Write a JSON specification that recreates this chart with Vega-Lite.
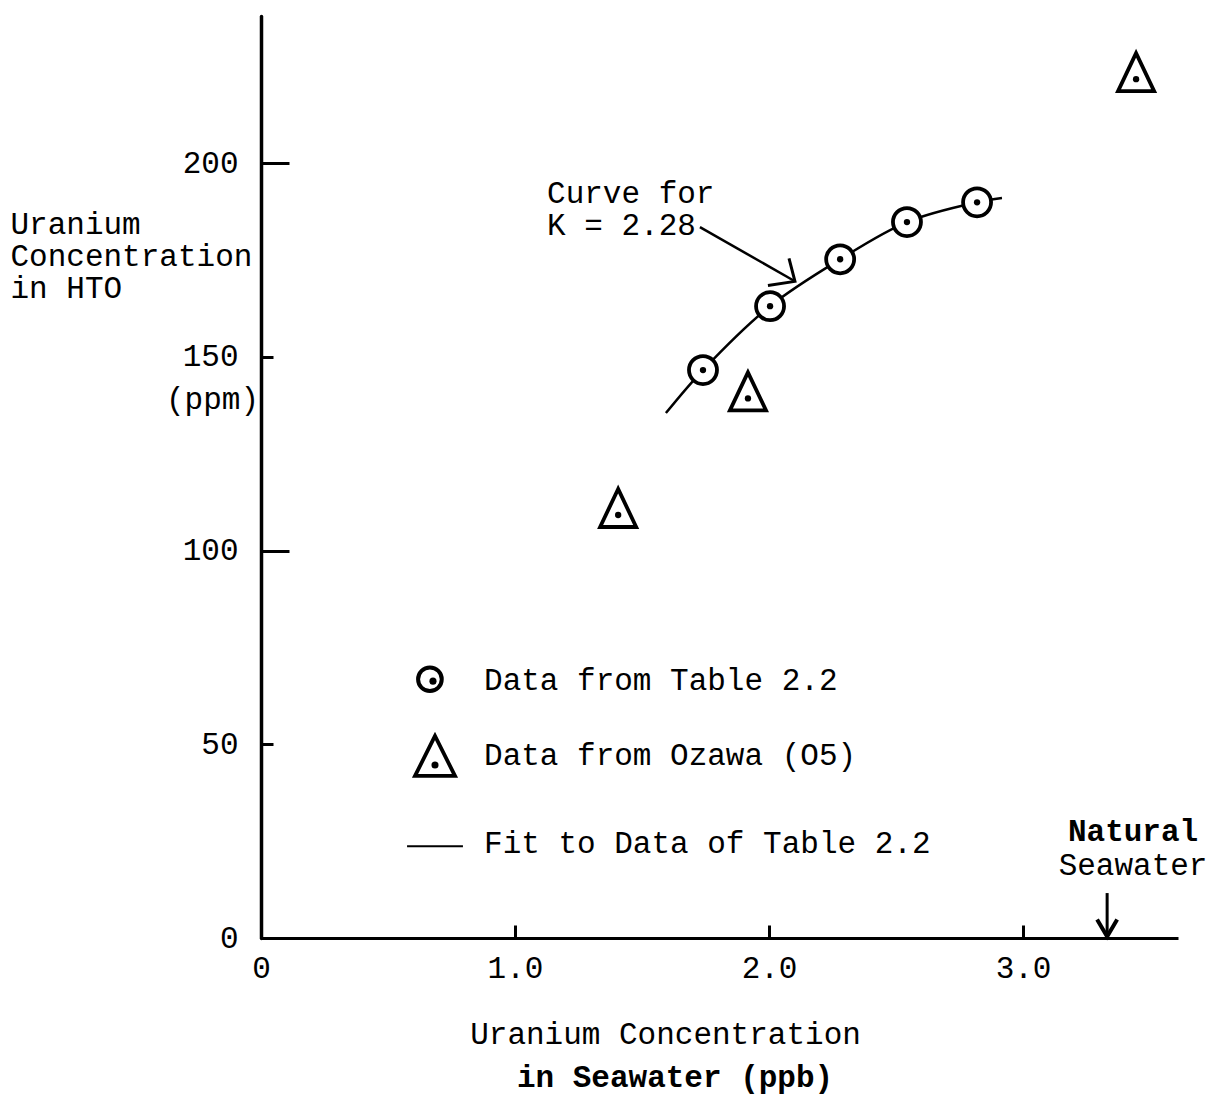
{
  "$schema": "https://vega.github.io/schema/vega-lite/v6.json",
  "width": 917,
  "height": 922,
  "autosize": {"type": "none"},
  "padding": {"left": 261, "top": 16, "right": 36, "bottom": 161},
  "background": "white",
  "config": {
    "view": {"stroke": null},
    "font": "Liberation Mono",
    "axis": {
      "labelFont": "Liberation Mono",
      "titleFont": "Liberation Mono",
      "labelColor": "black",
      "titleColor": "black",
      "domainColor": "black",
      "tickColor": "black",
      "grid": false
    }
  },
  "datasets": {
    "table22": [
      {"u_sea": 1.740, "u_hto": 146.6},
      {"u_sea": 2.004, "u_hto": 163.1},
      {"u_sea": 2.280, "u_hto": 175.2},
      {"u_sea": 2.543, "u_hto": 184.8},
      {"u_sea": 2.819, "u_hto": 189.9}
    ],
    "ozawa": [
      {"u_sea": 1.406, "u_hto": 111.0},
      {"u_sea": 1.917, "u_hto": 141.1},
      {"u_sea": 3.445, "u_hto": 223.5}
    ],
    "fit": [
      {"u_sea": 1.594, "u_hto": 135.5},
      {"u_sea": 1.740, "u_hto": 146.6},
      {"u_sea": 2.004, "u_hto": 163.1},
      {"u_sea": 2.280, "u_hto": 175.2},
      {"u_sea": 2.543, "u_hto": 184.8},
      {"u_sea": 2.819, "u_hto": 189.9},
      {"u_sea": 2.917, "u_hto": 191.0}
    ]
  },
  "layer": [
    {
      "data": {"name": "fit"},
      "mark": {"type": "line", "interpolate": "catmull-rom", "stroke": "black", "strokeWidth": 2.5},
      "encoding": {
        "x": {
          "field": "u_sea",
          "type": "quantitative",
          "scale": {"domain": [0, 3.61], "nice": false, "zero": false},
          "axis": {
            "values": [0, 1, 2, 3],
            "labelExpr": "datum.value === 0 ? '0' : format(datum.value, '.1f')",
            "labelFontSize": 31,
            "labelPadding": 28,
            "labelFlush": false,
            "labelOverlap": false,
            "tickSize": -13,
            "tickWidth": 3,
            "domainWidth": 3,
            "title": "Uranium Concentration",
            "titleFontSize": 31,
            "titleFontWeight": "normal",
            "titleAlign": "center",
            "titleBaseline": "alphabetic",
            "titleAnchor": null,
            "titleX": 404,
            "titleY": 105
          }
        },
        "y": {
          "field": "u_hto",
          "type": "quantitative",
          "scale": {"domain": [0, 238], "nice": false, "zero": false},
          "axis": {
            "values": [0, 50, 100, 150, 200],
            "labelFontSize": 31,
            "labelPadding": {"condition": {"test": "datum.value === 50 || datum.value === 150", "value": 35}, "value": 51},
            "labelFlush": false,
            "labelOverlap": false,
            "tickSize": {"condition": {"test": "datum.value === 50 || datum.value === 150", "value": -12}, "value": -28},
            "tickWidth": 3,
            "domainWidth": 3.5,
            "domainCap": "round",
            "title": ["Uranium", "Concentration", "in HTO"],
            "titleFontSize": 31,
            "titleFontWeight": "normal",
            "titleAngle": 0,
            "titleAlign": "left",
            "titleBaseline": "alphabetic",
            "titleAnchor": null,
            "titleLineHeight": 32,
            "titleX": -251,
            "titleY": 217
          }
        }
      }
    },
    {
      "data": {"name": "table22"},
      "mark": {"type": "point", "shape": "circle", "size": 784, "filled": true, "fill": "white", "stroke": "black", "strokeWidth": 3.8, "opacity": 1},
      "encoding": {
        "x": {"field": "u_sea", "type": "quantitative"},
        "y": {"field": "u_hto", "type": "quantitative"}
      }
    },
    {
      "data": {"name": "table22"},
      "mark": {"type": "point", "shape": "circle", "size": 40, "filled": true, "fill": "black", "opacity": 1},
      "encoding": {
        "x": {"field": "u_sea", "type": "quantitative"},
        "y": {"field": "u_hto", "type": "quantitative"}
      }
    },
    {
      "data": {"name": "ozawa"},
      "mark": {"type": "point", "shape": "M0,-1L-0.95,1L0.95,1Z", "size": 1444, "filled": true, "fill": "white", "stroke": "black", "strokeWidth": 3.8, "strokeJoin": "miter", "opacity": 1},
      "encoding": {
        "x": {"field": "u_sea", "type": "quantitative"},
        "y": {"field": "u_hto", "type": "quantitative"}
      }
    },
    {
      "data": {"name": "ozawa"},
      "mark": {"type": "point", "shape": "circle", "size": 40, "filled": true, "fill": "black", "opacity": 1, "yOffset": 7},
      "encoding": {
        "x": {"field": "u_sea", "type": "quantitative"},
        "y": {"field": "u_hto", "type": "quantitative"}
      }
    },
    {
      "data": {"values": [{}]},
      "mark": {"type": "rule", "stroke": "black", "strokeWidth": 2.5},
      "encoding": {
        "x": {"datum": 1.728, "type": "quantitative"},
        "y": {"datum": 183.5, "type": "quantitative"},
        "x2": {"datum": 2.100},
        "y2": {"datum": 169.6}
      }
    },
    {
      "data": {"values": [{}]},
      "mark": {"type": "point", "shape": "M-0.22,-0.85L0,0L-1,0.15", "size": 2916, "filled": false, "stroke": "black", "strokeWidth": 3, "opacity": 1},
      "encoding": {
        "x": {"datum": 2.102, "type": "quantitative"},
        "y": {"datum": 169.5, "type": "quantitative"}
      }
    },
    {
      "data": {"values": [{}]},
      "mark": {"type": "text", "text": ["Curve for", "K = 2.28"], "align": "left", "baseline": "middle", "fontSize": 31, "lineHeight": 32, "color": "black"},
      "encoding": {
        "x": {"datum": 1.126, "type": "quantitative"},
        "y": {"datum": 192.0, "type": "quantitative"}
      }
    },
    {
      "data": {"values": [{}]},
      "mark": {"type": "rule", "stroke": "black", "strokeWidth": 3},
      "encoding": {
        "x": {"datum": 3.331, "type": "quantitative"},
        "y": {"datum": 11.6, "type": "quantitative"},
        "y2": {"datum": 0.3}
      }
    },
    {
      "data": {"values": [{}]},
      "mark": {"type": "point", "shape": "M-0.59,-1L0,0L0.59,-1", "size": 1156, "filled": false, "stroke": "black", "strokeWidth": 4, "opacity": 1},
      "encoding": {
        "x": {"datum": 3.331, "type": "quantitative"},
        "y": {"datum": 0.4, "type": "quantitative"}
      }
    },
    {
      "data": {"values": [{}]},
      "mark": {"type": "text", "text": "Natural", "align": "center", "baseline": "middle", "fontSize": 31, "fontWeight": "bold", "color": "black"},
      "encoding": {
        "x": {"datum": 3.433, "type": "quantitative"},
        "y": {"datum": 27.3, "type": "quantitative"}
      }
    },
    {
      "data": {"values": [{}]},
      "mark": {"type": "text", "text": "Seawater", "align": "center", "baseline": "middle", "fontSize": 31, "color": "black"},
      "encoding": {
        "x": {"datum": 3.433, "type": "quantitative"},
        "y": {"datum": 18.6, "type": "quantitative"}
      }
    },
    {
      "data": {"values": [{}]},
      "mark": {"type": "text", "text": "(ppm)", "align": "left", "baseline": "middle", "fontSize": 31, "color": "black"},
      "encoding": {
        "x": {"datum": -0.374, "type": "quantitative"},
        "y": {"datum": 138.8, "type": "quantitative"}
      }
    },
    {
      "data": {"values": [{}]},
      "mark": {"type": "text", "text": "in Seawater (ppb)", "align": "center", "baseline": "middle", "fontSize": 31, "fontWeight": "bold", "color": "black"},
      "encoding": {
        "x": {"datum": 1.630, "type": "quantitative"},
        "y": {"datum": -36.1, "type": "quantitative"}
      }
    },
    {
      "data": {"values": [{}]},
      "mark": {"type": "point", "shape": "circle", "size": 560, "filled": true, "fill": "white", "stroke": "black", "strokeWidth": 4, "opacity": 1},
      "encoding": {
        "x": {"datum": 0.665, "type": "quantitative"},
        "y": {"datum": 66.8, "type": "quantitative"}
      }
    },
    {
      "data": {"values": [{}]},
      "mark": {"type": "point", "shape": "circle", "size": 50, "filled": true, "fill": "black", "opacity": 1},
      "encoding": {
        "x": {"datum": 0.677, "type": "quantitative"},
        "y": {"datum": 66.3, "type": "quantitative"}
      }
    },
    {
      "data": {"values": [{}]},
      "mark": {"type": "point", "shape": "M0,-1L-1,1L1,1Z", "size": 1600, "filled": true, "fill": "white", "stroke": "black", "strokeWidth": 3.8, "strokeJoin": "miter", "opacity": 1},
      "encoding": {
        "x": {"datum": 0.685, "type": "quantitative"},
        "y": {"datum": 47.0, "type": "quantitative"}
      }
    },
    {
      "data": {"values": [{}]},
      "mark": {"type": "point", "shape": "circle", "size": 50, "filled": true, "fill": "black", "opacity": 1, "yOffset": 9},
      "encoding": {
        "x": {"datum": 0.685, "type": "quantitative"},
        "y": {"datum": 47.0, "type": "quantitative"}
      }
    },
    {
      "data": {"values": [{}]},
      "mark": {"type": "rule", "stroke": "black", "strokeWidth": 2},
      "encoding": {
        "x": {"datum": 0.575, "type": "quantitative"},
        "x2": {"datum": 0.795},
        "y": {"datum": 23.7, "type": "quantitative"}
      }
    },
    {
      "data": {"values": [{}]},
      "mark": {"type": "text", "text": "Data from Table 2.2", "align": "left", "baseline": "middle", "fontSize": 31, "color": "black"},
      "encoding": {
        "x": {"datum": 0.878, "type": "quantitative"},
        "y": {"datum": 66.3, "type": "quantitative"}
      }
    },
    {
      "data": {"values": [{}]},
      "mark": {"type": "text", "text": "Data from Ozawa (O5)", "align": "left", "baseline": "middle", "fontSize": 31, "color": "black"},
      "encoding": {
        "x": {"datum": 0.878, "type": "quantitative"},
        "y": {"datum": 47.0, "type": "quantitative"}
      }
    },
    {
      "data": {"values": [{}]},
      "mark": {"type": "text", "text": "Fit to Data of Table 2.2", "align": "left", "baseline": "middle", "fontSize": 31, "color": "black"},
      "encoding": {
        "x": {"datum": 0.878, "type": "quantitative"},
        "y": {"datum": 24.3, "type": "quantitative"}
      }
    }
  ]
}
